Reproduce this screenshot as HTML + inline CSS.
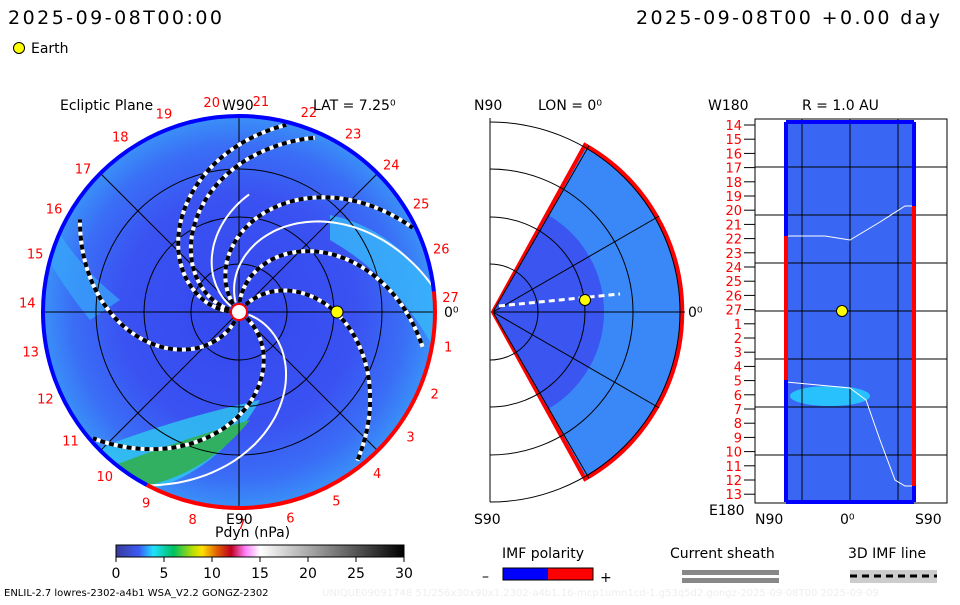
<!DOCTYPE html>
<html><head><meta charset="utf-8"><style>
body{margin:0;background:#fff;}
svg text{font-family:"DejaVu Sans","Liberation Sans",sans-serif;}
</style></head><body>
<svg id="s" width="960" height="600" viewBox="0 0 960 600" xmlns="http://www.w3.org/2000/svg">
<defs>
<radialGradient id="rg" cx="0.5" cy="0.5" r="0.5">
<stop offset="0" stop-color="#3448ee"/><stop offset="0.6" stop-color="#3a52f2"/><stop offset="0.85" stop-color="#3a6ef6"/><stop offset="1" stop-color="#3a90f8"/></radialGradient>
<linearGradient id="cb" x1="0" x2="1">
<stop offset="0" stop-color="#3a3a9a"/><stop offset="0.08" stop-color="#3a5cf5"/><stop offset="0.13" stop-color="#20e0ff"/><stop offset="0.2" stop-color="#00c060"/><stop offset="0.27" stop-color="#c0e000"/><stop offset="0.3" stop-color="#ffe000"/><stop offset="0.35" stop-color="#e06000"/><stop offset="0.4" stop-color="#c00020"/><stop offset="0.45" stop-color="#ff80ff"/><stop offset="0.5" stop-color="#ffffff"/><stop offset="1" stop-color="#000"/></linearGradient>
<clipPath id="cc"><circle cx="239" cy="312" r="196"/></clipPath>
</defs>
<text x="8" y="24" font-size="19" textLength="214">2025-09-08T00:00</text>
<text x="636" y="24" font-size="19" textLength="304">2025-09-08T00 +0.00 day</text>
<circle cx="19" cy="48" r="5.5" fill="#ff0" stroke="#000"/>
<text x="31" y="53" font-size="14">Earth</text>

<g id="eq">
<circle cx="239" cy="312" r="196" fill="url(#rg)"/>
<g clip-path="url(#cc)">
<path d="M330,215 Q400,230 440,300 L440,360 Q400,280 330,240 Z" fill="#38b8fa" opacity="0.8"/>
<path d="M40,200 Q70,260 120,300 L90,320 Q50,270 40,240 Z" fill="#38a8fa" opacity="0.7"/>
<path d="M95,450 Q170,420 260,400 Q220,470 150,490 Z" fill="#30c8f0" opacity="0.8"/>
<path d="M115,465 Q180,440 250,420 Q210,470 150,485 Z" fill="#30b060"/>
</g>
<g id="rings" fill="none" stroke="#000" stroke-width="1"></g>
<g id="spirals" clip-path="url(#cc)"></g>
<path id="rimBlue" fill="none" stroke="#0000ff" stroke-width="4"/>
<path id="rimRed" fill="none" stroke="#ff0000" stroke-width="4"/>
<circle cx="239" cy="312" r="8" fill="#fff" stroke="#f00" stroke-width="2"/>
<circle cx="337" cy="312" r="6" fill="#ff0" stroke="#000"/>
<g id="clab" fill="#f00" font-size="13" text-anchor="middle"></g>
<text x="60" y="110" font-size="14">Ecliptic Plane</text>
<text x="222" y="110" font-size="14">W90</text>
<text x="313" y="110" font-size="14">LAT = 7.25⁰</text>
<text x="444" y="317" font-size="14">0⁰</text>
<text x="226" y="524" font-size="14">E90</text>
</g>

<g>
<path d="M493,312 L585,145 A192,192 0 0 1 585,479 Z" fill="#3a88f8" stroke="#f00" stroke-width="4"/>
<path d="M493,312 L548,215 A112,112 0 0 1 548,409 Z" fill="#3a55f0"/>
<g id="mrings" fill="none" stroke="#000"></g>
<line x1="499" y1="306" x2="620" y2="294" stroke="#fff" stroke-width="3" stroke-dasharray="6 4"/>
<circle cx="585" cy="300" r="5.5" fill="#ff0" stroke="#000"/>
<text x="474" y="110" font-size="14">N90</text>
<text x="538" y="110" font-size="14">LON = 0⁰</text>
<text x="688" y="317" font-size="14">0⁰</text>
<text x="474" y="524" font-size="14">S90</text>
</g>

<g>
<rect x="755" y="119" width="192" height="384" fill="#fff" stroke="#000"/>
<rect x="786" y="122" width="128" height="380" fill="#3a66f4"/>
<ellipse cx="830" cy="396" rx="40" ry="10" fill="#25d8ff" opacity="0.8"/>
<g id="rgrid" stroke="#000"></g>
<polyline points="786,236 825,236 850,240 880,222 905,206 914,206" fill="none" stroke="#fff"/>
<polyline points="786,382 850,388 866,400 880,440 895,480 905,486 914,486" fill="none" stroke="#fff"/>
<line x1="786" y1="122" x2="786" y2="502" stroke="#00f" stroke-width="4"/>
<line x1="786" y1="236" x2="786" y2="380" stroke="#f00" stroke-width="4"/>
<line x1="914" y1="122" x2="914" y2="502" stroke="#00f" stroke-width="4"/>
<line x1="914" y1="206" x2="914" y2="486" stroke="#f00" stroke-width="4"/>
<line x1="786" y1="122" x2="914" y2="122" stroke="#00f" stroke-width="4"/>
<line x1="786" y1="502" x2="914" y2="502" stroke="#00f" stroke-width="4"/>
<circle cx="842" cy="311" r="5.5" fill="#ff0" stroke="#000"/>
<g id="rlab" fill="#f00" font-size="13" text-anchor="end"></g>
<text x="708" y="110" font-size="14">W180</text>
<text x="802" y="110" font-size="14">R = 1.0 AU</text>
<text x="709" y="515" font-size="14">E180</text>
<text x="755" y="524" font-size="14">N90</text>
<text x="840" y="524" font-size="14">0⁰</text>
<text x="915" y="524" font-size="14">S90</text>
</g>

<g>
<text x="215" y="537" font-size="14">Pdyn (nPa)</text>
<rect x="116" y="545" width="288" height="12" fill="url(#cb)" stroke="#000"/>
<g id="cbt" font-size="14" text-anchor="middle"></g>
</g>
<g>
<text x="502" y="558" font-size="14">IMF polarity</text>
<text x="482" y="581" font-size="14">–</text>
<rect x="503" y="568" width="45" height="12" fill="#00f"/>
<rect x="548" y="568" width="45" height="12" fill="#f00"/>
<rect x="503" y="568" width="90" height="12" fill="none" stroke="#000"/>
<text x="600" y="582" font-size="14">+</text>
</g>
<g>
<text x="670" y="558" font-size="14">Current sheath</text>
<rect x="682" y="570" width="97" height="5" fill="#888"/>
<rect x="682" y="578" width="97" height="5" fill="#888"/>
</g>
<g>
<text x="848" y="558" font-size="14">3D IMF line</text>
<rect x="850" y="570" width="87" height="13" fill="#ccc"/>
<line x1="850" y1="576" x2="937" y2="576" stroke="#000" stroke-width="3" stroke-dasharray="7 5"/>
</g>
<text x="4" y="596" font-size="10">ENLIL-2.7 lowres-2302-a4b1 WSA_V2.2 GONGZ-2302</text>
<text x="322" y="596" font-size="10" fill="#eee">UNIQUE09091748 51/256x30x90x1.2302-a4b1.16-mcp1umn1cd-1.g53q5d2.gongz-2025-09-08T00   2025-09-09</text>
</svg>
<script>
const NS="http://www.w3.org/2000/svg";
const cbTicks=[0,5,10,15,20,25,30];
const spiralStarts=[-53,-92,-132,-182,-171,33,109];
const spiralEnds=[190,188,195,195,190,195,185];
const whiteStarts=[-115,10,-150];
const whiteEnds=[200,200,120];
const rowLabels=[14,15,16,17,18,19,20,21,22,23,24,25,26,27,1,2,3,4,5,6,7,8,9,10,11,12,13];
const cx=239,cy=312,R=196,K=0.55;
function mk(t,a,p){const e=document.createElementNS(NS,t);for(const k in a)e.setAttribute(k,a[k]);(p||document.getElementById('s')).appendChild(e);return e;}
const rings=document.getElementById('rings');
[48,95,143].forEach(r=>{const c=mk('circle',{cx:cx,cy:cy,r:r},rings);

});
for(let a=0;a<360;a+=45){const t=a*Math.PI/180;const l=mk('line',{x1:cx,y1:cy,x2:cx+R*Math.cos(t),y2:cy+R*Math.sin(t)},rings);

}
function spiral(th0,rEnd){let d='';for(let r=10;r<=rEnd;r+=3){const t=(th0+K*r)*Math.PI/180;d+=(r==10?'M':'L')+(cx+r*Math.cos(t)).toFixed(1)+','+(cy+r*Math.sin(t)).toFixed(1);}return d;}
const sg=document.getElementById('spirals');
whiteStarts.forEach((a,i)=>{const p=mk('path',{d:spiral(a,whiteEnds[i]),fill:'none',stroke:'#fff','stroke-width':2},sg);

});
spiralStarts.forEach((a,i)=>{const d=spiral(a,spiralEnds[i]);mk('path',{d:d,fill:'none',stroke:'#fff','stroke-width':4},sg);
const p=mk('path',{d:d,fill:'none',stroke:'#000','stroke-width':4,'stroke-dasharray':'5 4'},sg);

});
function arc(a1,a2){const t1=a1*Math.PI/180,t2=a2*Math.PI/180;const large=((a2-a1+360)%360)>180?1:0;return `M${cx+R*Math.cos(t1)},${cy+R*Math.sin(t1)} A${R},${R} 0 ${large} 1 ${cx+R*Math.cos(t2)},${cy+R*Math.sin(t2)}`;}
document.getElementById('rimRed').setAttribute('d',arc(-6,118));
document.getElementById('rimBlue').setAttribute('d',arc(118,354));
const cl=document.getElementById('clab');
for(let n=1;n<=27;n++){const a=(-4+13.33*(n%27))*Math.PI/180;const t=mk('text',{x:cx+212*Math.cos(a),y:cy+212*Math.sin(a)+5},cl);t.textContent=n;

}
const mr=document.getElementById('mrings');
mk('line',{x1:490,y1:118,x2:490,y2:502},mr);
[48,95,143,190].forEach(r=>{const c=mk('path',{d:`M490,${312-r} A${r},${r} 0 0 1 490,${312+r}`},mr);

});
[-60,-30,30,60].forEach(a=>{const t=a*Math.PI/180;mk('line',{x1:493,y1:312,x2:493+192*Math.cos(t),y2:312+192*Math.sin(t)},mr);});
mk('line',{x1:493,y1:312,x2:685,y2:312},mr);
const rg=document.getElementById('rgrid');
for(let i=1;i<=7;i++){const y=119+48*i;mk('line',{x1:755,y1:y,x2:947,y2:y},rg);}
[802,850,898].forEach(x=>mk('line',{x1:x,y1:119,x2:x,y2:503},rg));
const rl=document.getElementById('rlab');
rowLabels.forEach((v,i)=>{const y=125+i*14.2;const t=mk('text',{x:742,y:y+5},rl);t.textContent=v;


mk('line',{x1:744,y1:y,x2:755,y2:y,stroke:'#000'});});
const cb=document.getElementById('cbt');
cbTicks.forEach(v=>{const x=116+v/30*288;mk('line',{x1:x,y1:557,x2:x,y2:562,stroke:'#000'},cb);const t=mk('text',{x:x,y:578},cb);t.textContent=v;

});
</script>
</body></html>
